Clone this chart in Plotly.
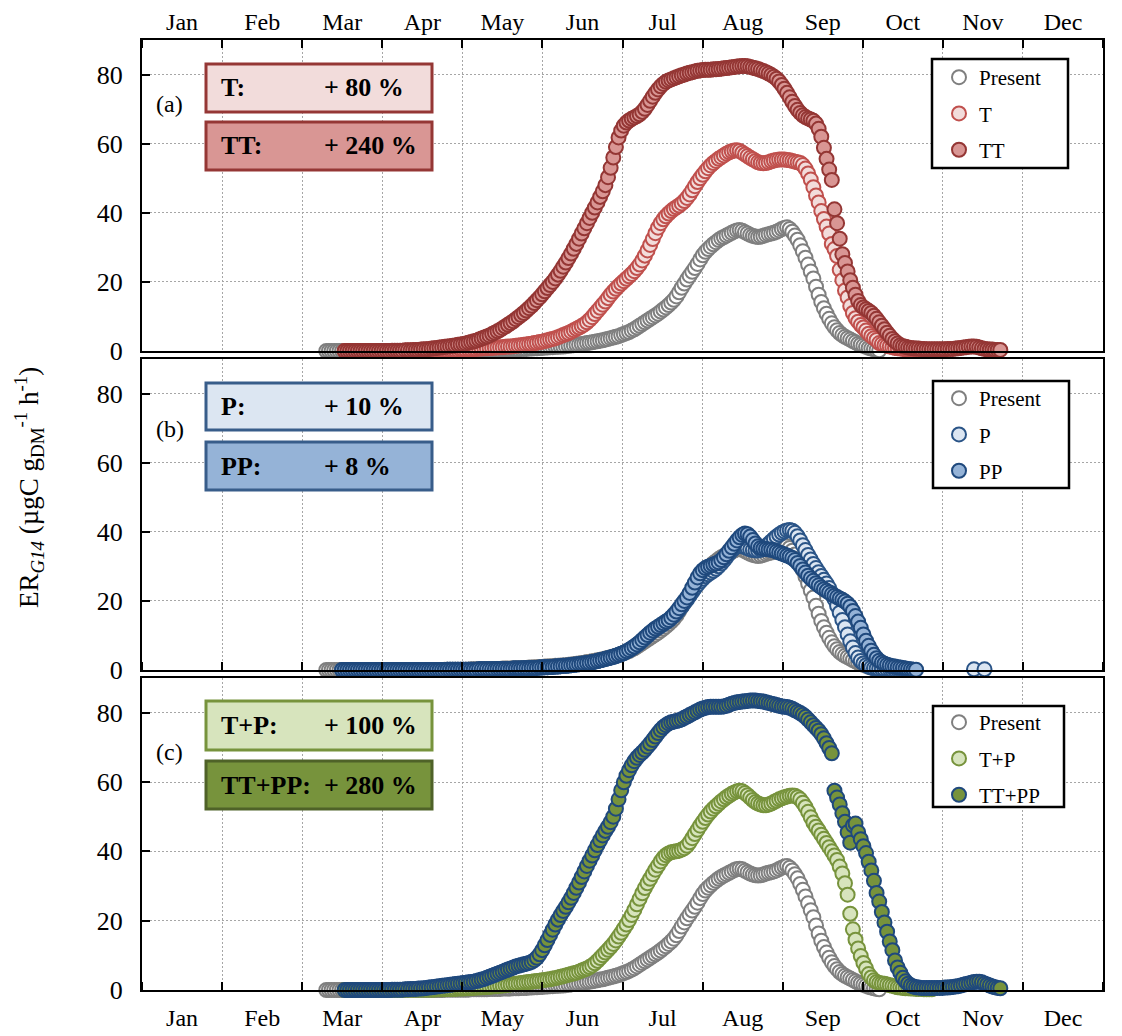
import plotly.graph_objects as go

FONT = "Liberation Serif"

# ---------------- data (daily values, day-of-year start + list) ----------------
months = ["Jan", "Feb", "Mar", "Apr", "May", "Jun", "Jul", "Aug", "Sep", "Oct", "Nov", "Dec"]
y_ticks = [0, 20, 40, 60, 80]

present_start = 70
present = [
    0, 0, 0, 0, 0, 0, 0, 0, 0, 0,
    0, 0, 0, 0, 0, 0, 0, 0, 0, 0,
    0, 0, 0, 0, 0, 0, 0, 0, 0, 0,
    0, 0, 0, 0, 0, 0, 0, 0, 0, 0,
    0, 0, 0, 0, 0, 0.1, 0.1, 0.1, 0.1, 0.1,
    0.1, 0.1, 0.1, 0.1, 0.1, 0.2, 0.2, 0.2, 0.2, 0.2,
    0.2, 0.2, 0.3, 0.3, 0.3, 0.3, 0.3, 0.4, 0.4, 0.4,
    0.4, 0.5, 0.5, 0.5, 0.6, 0.6, 0.6, 0.7, 0.7, 0.8,
    0.8, 0.9, 0.9, 1.0, 1.0, 1.1, 1.1, 1.2, 1.2, 1.3,
    1.3, 1.4, 1.5, 1.6, 1.7, 1.8, 1.9, 2.0, 2.1, 2.3,
    2.4, 2.5, 2.7, 2.8, 3.0, 3.1, 3.3, 3.5, 3.7, 3.9,
    4.1, 4.3, 4.6, 4.9, 5.2, 5.5, 5.9, 6.3, 6.8, 7.3,
    7.8, 8.3, 8.8, 9.3, 9.8, 10.3, 10.8, 11.4, 12.0, 12.6,
    13.3, 14.0, 14.8, 15.8, 17.0, 18.3, 19.5, 20.7, 21.8, 22.9,
    24.0, 25.2, 26.5, 27.7, 28.7, 29.5, 30.2, 30.9, 31.5, 32.1,
    32.6, 33.0, 33.4, 33.8, 34.2, 34.6, 34.9, 35.0, 34.8, 34.4,
    34.0, 33.6, 33.3, 33.1, 33.0, 33.1, 33.3, 33.6, 33.8, 34.0,
    34.2, 34.5, 34.9, 35.3, 35.6, 35.8, 35.3, 34.5, 33.4, 32.2,
    30.6, 28.9, 27.0, 25.0, 23.0, 21.0, 18.6, 16.3, 14.2, 12.4,
    10.8, 9.3, 8.0, 6.9, 6.0, 5.2, 4.6, 4.1, 3.7, 3.3,
    2.9, 2.5, 2.1, 1.8, 1.5, 1.2, 0.9, 0.7, 0.5, 0.3,
    0.2,
]

t_start = 77
t_vals = [
    0, 0, 0,
    0, 0, 0, 0, 0, 0, 0, 0, 0, 0,
    0, 0, 0, 0, 0, 0, 0, 0, 0, 0,
    0.1, 0.1, 0.1, 0.1, 0.1, 0.1, 0.1, 0.1, 0.1, 0.1,
    0.1, 0.1, 0.1, 0.2, 0.2, 0.2, 0.2, 0.3, 0.3, 0.3,
    0.3, 0.4, 0.4, 0.4, 0.5, 0.5, 0.6, 0.6, 0.7, 0.7,
    0.8, 0.8, 0.9, 0.9, 1.0, 1.0, 1.1, 1.1, 1.2, 1.3,
    1.3, 1.4, 1.5, 1.6, 1.7, 1.8, 1.9, 2.0, 2.1, 2.3,
    2.4, 2.6, 2.7, 2.9, 3.1, 3.3, 3.5, 3.7, 4.0, 4.3,
    4.6, 4.9, 5.2, 5.6, 6.0, 6.4, 6.8, 7.2, 7.7, 8.3,
    9.0, 9.8, 10.7, 11.6, 12.5, 13.4, 14.3, 15.3, 16.3, 17.2,
    18.0, 18.8, 19.5, 20.2, 20.9, 21.6, 22.3, 23.1, 24.0, 25.0,
    26.2, 27.6, 29.1, 30.7, 32.4, 34.1, 35.7, 37.0, 38.1, 39.0,
    39.8, 40.5, 41.1, 41.6, 42.1, 42.7, 43.4, 44.3, 45.3, 46.5,
    47.7, 48.9, 50.0, 51.0, 52.0, 52.9, 53.7, 54.4, 55.0, 55.6,
    56.1, 56.6, 57.1, 57.5, 57.8, 58.0, 58.1, 57.9, 57.4, 56.9,
    56.4, 55.9, 55.5, 55.0, 54.6, 54.4, 54.3, 54.4, 54.6, 54.9,
    55.1, 55.3, 55.4, 55.4, 55.4, 55.3, 55.2, 55.0, 54.8, 54.6,
    54.4, 53.8, 52.8, 51.4, 49.6, 47.4, 45.0, 43.0, 40.5, 38.2,
    36.0, 34.0, 31.0, 29.5, 27.5, 23.5, 20.5, 17.5, 15.5, 13.0,
    11.0, 9.5, 8.5, 7.5, 6.8, 5.9, 5.0, 4.3, 3.7, 3.2,
    2.3, 2.0, 1.7, 1.5, 1.3, 1.1, 0.9, 0.8, 0.7, 0.6,
    0.5, 0.5, 0.4, 0.4, 0.3, 0.3, 0.3, 0.2, 0.2, 0.2,
    0.2,
]

tt_start = 77
tt_vals = [
    0, 0, 0,
    0, 0, 0, 0, 0, 0, 0, 0, 0, 0,
    0, 0, 0, 0, 0, 0.1, 0.1, 0.1, 0.1, 0.1,
    0.2, 0.2, 0.2, 0.3, 0.3, 0.3, 0.4, 0.5, 0.5, 0.6,
    0.7, 0.8, 0.9, 1.0, 1.1, 1.2, 1.3, 1.4, 1.5, 1.6,
    1.8, 1.9, 2.0, 2.2, 2.4, 2.6, 2.8, 3.0, 3.3, 3.6,
    3.9, 4.2, 4.5, 4.9, 5.3, 5.7, 6.1, 6.6, 7.1, 7.6,
    8.1, 8.6, 9.2, 9.8, 10.4, 11.0, 11.7, 12.4, 13.1, 13.9,
    14.7, 15.5, 16.4, 17.3, 18.2, 19.1, 20.0, 21.0, 22.1, 23.2,
    24.4, 25.6, 26.9, 28.2, 29.6, 31.0, 32.5, 34.0, 35.5, 37.0,
    38.5, 40.0, 41.5, 43.0, 44.6, 46.2, 48.0, 50.3, 53.0, 56.0,
    59.0, 61.8, 63.8, 65.2, 66.1, 66.7, 67.2, 67.6, 68.0, 68.5,
    69.2, 70.1, 71.2, 72.4, 73.6, 74.7, 75.7, 76.6, 77.3, 77.9,
    78.3, 78.6, 78.9, 79.2, 79.5, 79.8, 80.0, 80.3, 80.5, 80.7,
    80.9, 81.1, 81.2, 81.3, 81.4, 81.4, 81.4, 81.5, 81.5, 81.6,
    81.7, 81.8, 81.9, 82.0, 82.1, 82.2, 82.3, 82.4, 82.5, 82.5,
    82.4, 82.2, 82.0, 81.8, 81.6, 81.3, 81.0, 80.7, 80.3, 79.9,
    79.4, 78.8, 78.0, 77.0, 75.9, 74.7, 73.4, 72.1, 70.9, 69.8,
    68.9, 68.2, 67.7, 67.3, 67.0, 66.6, 65.8, 64.3, 62.0, 58.8,
    55.6, 52.5, 49.5, 41.0, 37.0, 32.5, 28.0, 25.5, 23.0, 20.5,
    18.3, 16.3, 14.5, 13.3, 12.6, 12.1, 11.6, 11.0, 10.2, 9.3,
    8.3, 7.3, 6.3, 5.3, 4.4, 3.5, 2.8, 2.2, 1.7, 1.4,
    1.2, 1.0, 0.9, 0.8, 0.7, 0.7, 0.6, 0.6, 0.5, 0.5,
    0.5, 0.5, 0.5, 0.5, 0.5, 0.5, 0.6, 0.6, 0.6, 0.7,
    0.8, 0.9, 1.0, 1.1, 1.2, 1.3, 1.3, 1.2, 1.0, 0.8,
    0.6, 0.5, 0.4, 0.4, 0.3, 0.3, 0.3,
]

p_start = 76
p_vals = [
    0, 0, 0, 0,
    0, 0, 0, 0, 0, 0, 0, 0, 0, 0,
    0, 0, 0, 0, 0, 0, 0, 0, 0, 0,
    0, 0, 0, 0, 0, 0, 0, 0, 0, 0,
    0, 0, 0, 0, 0, 0, 0.1, 0.1, 0.1, 0.1,
    0.1, 0.1, 0.1, 0.1, 0.1, 0.1, 0.1, 0.1, 0.2, 0.2,
    0.2, 0.2, 0.2, 0.2, 0.2, 0.3, 0.3, 0.3, 0.3, 0.3,
    0.3, 0.4, 0.4, 0.4, 0.4, 0.5, 0.5, 0.5, 0.6, 0.6,
    0.6, 0.7, 0.7, 0.8, 0.8, 0.9, 0.9, 1.0, 1.0, 1.1,
    1.2, 1.2, 1.3, 1.4, 1.5, 1.6, 1.7, 1.8, 1.9, 2.0,
    2.1, 2.3, 2.4, 2.6, 2.8, 3.0, 3.2, 3.4, 3.6, 3.8,
    4.0, 4.3, 4.6, 4.9, 5.3, 5.7, 6.2, 6.7, 7.2, 7.8,
    8.5, 9.2, 9.9, 10.6, 11.2, 11.8, 12.3, 12.8, 13.3, 13.8,
    14.3, 15.0, 15.7, 16.5, 17.4, 18.4, 19.4, 20.4, 21.5, 22.6,
    23.7, 24.7, 25.6, 26.4, 27.1, 27.7, 28.2, 28.7, 29.3, 30.0,
    30.8, 31.7, 32.7, 33.7, 34.6, 35.3, 35.8, 36.0, 35.9, 35.6,
    35.2, 34.9, 34.7, 34.6, 34.6, 34.8, 35.2, 35.8, 36.5, 37.2,
    37.9, 38.6, 39.2, 39.7, 40.1, 40.4, 40.5, 40.3, 39.7, 38.7,
    37.5, 36.1, 34.7, 33.3, 32.0, 30.7, 29.5, 28.3, 27.2, 26.1,
    25.0, 23.7, 22.2, 20.5, 18.6, 16.6, 14.5, 12.4, 10.3, 8.3,
    6.5, 4.9, 3.6, 2.6, 1.9, 1.4, 1.0, 0.7, 0.5, 0.4,
    0.3, 0.3, 0.2, 0.2, 0.2, 0.1, 0.1, 0.1, 0.1, 0.1,
    0.1, None, None, None, None, None, None, None, None, None,
    None, None, None, None, None, None, None, None, None, None,
    None, None, None, None, None, None, 0.2, None, None, None,
    0.2,
]

pp_start = 76
pp_vals = [
    0, 0, 0, 0,
    0, 0, 0, 0, 0, 0, 0, 0, 0, 0,
    0, 0, 0, 0, 0, 0, 0, 0, 0, 0,
    0, 0, 0, 0, 0, 0, 0, 0, 0, 0,
    0, 0, 0, 0, 0, 0, 0.1, 0.1, 0.1, 0.1,
    0.1, 0.1, 0.1, 0.1, 0.1, 0.1, 0.1, 0.1, 0.2, 0.2,
    0.2, 0.2, 0.2, 0.2, 0.2, 0.3, 0.3, 0.3, 0.3, 0.3,
    0.3, 0.4, 0.4, 0.4, 0.4, 0.5, 0.5, 0.5, 0.6, 0.6,
    0.6, 0.7, 0.7, 0.8, 0.8, 0.9, 0.9, 1.0, 1.0, 1.1,
    1.2, 1.2, 1.3, 1.4, 1.5, 1.6, 1.7, 1.8, 1.9, 2.0,
    2.1, 2.3, 2.4, 2.6, 2.8, 3.0, 3.2, 3.4, 3.6, 3.8,
    4.1, 4.4, 4.7, 5.0, 5.4, 5.8, 6.3, 6.8, 7.4, 8.0,
    8.7, 9.4, 10.1, 10.8, 11.4, 12.0, 12.5, 13.0, 13.5, 14.0,
    14.5, 15.2, 16.0, 16.9, 17.9, 19.0, 20.0, 21.0, 22.3, 23.8,
    25.3, 26.8, 28.0, 28.9, 29.5, 29.9, 30.2, 30.5, 30.8, 31.2,
    31.8, 32.6, 33.5, 34.5, 35.5, 36.5, 37.5, 38.4, 39.1, 39.5,
    39.3, 38.6, 37.6, 36.6, 35.8, 35.3, 35.1, 35.0, 34.9, 34.8,
    34.6, 34.3, 34.0, 33.7, 33.4, 33.1, 32.8, 32.4, 31.8, 31.0,
    30.1, 29.1, 28.2, 27.3, 26.5, 25.8, 25.1, 24.5, 23.9, 23.4,
    22.9, 22.4, 21.9, 21.5, 21.1, 20.7, 20.3, 19.8, 19.2, 18.3,
    17.1, 15.6, 14.0, 12.2, 10.3, 8.5, 7.0, 5.6, 4.4, 3.4,
    2.7, 2.2, 1.8, 1.5, 1.3, 1.1, 1.0, 0.8, 0.7, 0.6,
    0.4, 0.3, 0.2, 0.1, 0.1,
]

tp_start = 77
tp_vals = [
    0, 0, 0,
    0, 0, 0, 0, 0, 0, 0, 0, 0, 0,
    0, 0, 0, 0, 0, 0, 0, 0, 0, 0,
    0.1, 0.1, 0.1, 0.1, 0.1, 0.1, 0.1, 0.1, 0.1, 0.1,
    0.1, 0.1, 0.2, 0.2, 0.2, 0.2, 0.3, 0.3, 0.3, 0.3,
    0.4, 0.4, 0.4, 0.5, 0.5, 0.6, 0.6, 0.7, 0.7, 0.8,
    0.8, 0.9, 0.9, 1.0, 1.1, 1.1, 1.2, 1.3, 1.4, 1.5,
    1.6, 1.7, 1.8, 1.9, 2.0, 2.1, 2.2, 2.3, 2.4, 2.5,
    2.6, 2.7, 2.8, 2.9, 3.0, 3.1, 3.3, 3.4, 3.6, 3.8,
    4.0, 4.2, 4.4, 4.6, 4.8, 5.0, 5.3, 5.6, 5.9, 6.2,
    6.6, 7.1, 7.7, 8.4, 9.2, 10.0, 10.8, 11.6, 12.4, 13.3,
    14.3, 15.4, 16.5, 17.7, 18.9, 20.2, 21.6, 23.1, 24.7, 26.3,
    27.9, 29.4, 30.8, 32.1, 33.4, 34.7, 35.9, 37.1, 38.1, 38.9,
    39.4, 39.7, 39.9, 40.0, 40.2, 40.5, 40.9, 41.6, 42.6, 43.8,
    45.0, 46.2, 47.4, 48.5, 49.6, 50.6, 51.5, 52.3, 53.0, 53.7,
    54.4, 55.0, 55.6, 56.1, 56.6, 57.0, 57.3, 57.5, 57.3, 56.8,
    56.2, 55.5, 54.8, 54.2, 53.8, 53.5, 53.3, 53.3, 53.5, 53.8,
    54.2, 54.6, 55.0, 55.3, 55.6, 55.8, 56.0, 56.1, 56.0, 55.6,
    55.0, 54.0, 52.8, 51.4, 49.8, 48.3, 47.1, 46.0, 44.8, 43.6,
    42.4, 41.2, 40.0, 38.8, 37.5, 35.6, 33.6, 30.8, 27.5, 22.0,
    17.5, 14.5, 12.0, 9.8, 7.8, 6.2, 4.6, 3.6, 2.8, 2.3,
    2.0, 1.9, 1.8, 1.6, 1.4, 1.2, 1.0, 0.8, 0.7, 0.6,
    0.5, 0.5, 0.4, 0.4, 0.3, 0.3, 0.3, 0.2, 0.2, 0.2,
    0.2,
]

ttpp_start = 77
ttpp_vals = [
    0, 0, 0,
    0, 0, 0, 0, 0, 0, 0, 0, 0, 0,
    0, 0, 0, 0, 0, 0.1, 0.1, 0.1, 0.1, 0.1,
    0.2, 0.2, 0.3, 0.3, 0.3, 0.4, 0.4, 0.5, 0.6, 0.7,
    0.8, 0.9, 1.0, 1.1, 1.2, 1.3, 1.4, 1.5, 1.6, 1.7,
    1.8, 1.9, 2.0, 2.1, 2.2, 2.3, 2.4, 2.6, 2.8, 3.0,
    3.2, 3.5, 3.8, 4.1, 4.4, 4.7, 5.0, 5.3, 5.6, 5.9,
    6.2, 6.5, 6.8, 7.0, 7.2, 7.4, 7.6, 7.8, 8.1, 8.6,
    9.3, 10.3, 11.5, 12.9, 14.4, 15.9, 17.4, 18.9, 20.3, 21.6,
    22.8, 24.0, 25.3, 26.6, 28.0, 29.5, 31.0, 32.6, 34.2, 35.8,
    37.3, 38.8, 40.3, 41.8, 43.2, 44.6, 45.9, 47.1, 48.4, 50.0,
    52.3, 55.0, 57.6, 59.9, 61.8, 63.4, 64.8, 66.0, 67.0, 67.8,
    68.5, 69.3, 70.2, 71.1, 72.1, 73.1, 74.1, 75.0, 75.8, 76.4,
    76.9, 77.2, 77.4, 77.6, 77.8, 78.1, 78.5, 78.9, 79.3, 79.7,
    80.1, 80.5, 80.9, 81.2, 81.4, 81.6, 81.7, 81.7, 81.7, 81.7,
    81.7, 81.8, 82.0, 82.3, 82.6, 82.8, 83.0, 83.1, 83.2, 83.3,
    83.4, 83.5, 83.5, 83.5, 83.4, 83.3, 83.2, 83.0, 82.8, 82.6,
    82.4, 82.2, 82.0, 81.8, 81.7, 81.6, 81.4, 81.1, 80.7, 80.3,
    79.9, 79.4, 78.8, 78.0, 77.2, 76.4, 75.6, 74.8, 73.8, 72.6,
    71.2, 69.8, 68.3, 57.5, 55.5, 53.5, 51.0, 48.5, 45.5, 42.5,
    47.5, 48.0, 45.5, 43.5, 41.5, 39.5, 37.0, 34.5, 31.5, 28.0,
    25.5, 22.5, 19.5, 16.8, 14.0, 11.5, 8.5, 6.5, 5.0, 3.5,
    2.5, 1.8, 1.3, 1.0, 0.8, 0.7, 0.6, 0.6, 0.6, 0.6,
    0.6, 0.6, 0.6, 0.6, 0.6, 0.7, 0.7, 0.8, 0.9, 1.0,
    1.1, 1.3, 1.5, 1.7, 1.9, 2.1, 2.3, 2.4, 2.4, 2.2,
    1.9, 1.6, 1.3, 1.0, 0.8, 0.6, 0.5,
]

box_labels = [
    [("T:", "+ 80 %"), ("TT:", "+ 240 %")],
    [("P:", "+ 10 %"), ("PP:", "+ 8 %")],
    [("T+P:", "+ 100 %"), ("TT+PP:", "+ 280 %")],
]
panel_letters = ["(a)", "(b)", "(c)"]


def days(start, vals):
    return list(range(start, start + len(vals)))


# ---------------- styles ----------------
GREY = "#7F7F7F"
styles = {
    "Present": dict(fill="#FFFFFF", line=GREY),
    "T": dict(fill="#F2DCDB", line="#C0504D"),
    "TT": dict(fill="#D99694", line="#943634"),
    "P": dict(fill="#DCE6F2", line="#2A5487"),
    "PP": dict(fill="#95B3D7", line="#1F497D"),
    "T+P": dict(fill="#D7E4BD", line="#77933C"),
    "TT+PP": dict(fill="#77933C", line="#1F497D"),
}

panels = [
    [("Present", present_start, present), ("T", t_start, t_vals), ("TT", tt_start, tt_vals)],
    [("Present", present_start, present), ("P", p_start, p_vals), ("PP", pp_start, pp_vals)],
    [("Present", present_start, present), ("T+P", tp_start, tp_vals), ("TT+PP", ttpp_start, ttpp_vals)],
]

fig = go.Figure()
for i, series in enumerate(panels):
    sfx = "" if i == 0 else str(i + 1)
    for name, start, vals in series:
        st = styles[name]
        fig.add_trace(go.Scatter(
            x=days(start, vals), y=vals, name=name, mode="markers",
            xaxis="x" + sfx, yaxis="y" + sfx,
            legend="legend" + sfx, legendgroup=f"{name}{i}",
            cliponaxis=False,
            marker=dict(size=14, color=st["fill"], line=dict(color=st["line"], width=2)),
        ))

# ---------------- layout ----------------
# reference pixel frame (page has an 8px body margin)
OFF = 8
REF_L, REF_R, REF_T, REF_B = 142, 1103, 40, 990
W, H = 1122 - OFF, 1036 - OFF
pw, ph = REF_R - REF_L, REF_B - REF_T


def px_x(x):
    return (x - REF_L) / pw


def px_y(y):
    return (REF_B - y) / ph


domains = [[px_y(351), 1.0], [px_y(670), px_y(359)], [0.0, px_y(678)]]
mid = [(k + 0.5) * 365 / 12 for k in range(12)]

layout = dict(
    width=W, height=H, autosize=False,
    margin=dict(l=REF_L - OFF, r=W - (REF_R - OFF), t=REF_T - OFF, b=H - (REF_B - OFF), pad=0),
    paper_bgcolor="white", plot_bgcolor="white",
    font=dict(family=FONT, color="black", size=20),
    showlegend=True,
)

GRID = dict(showgrid=True, gridcolor="#A6A6A6", griddash="2px,2px", gridwidth=1)
for i in range(3):
    sfx = "" if i == 0 else str(i + 1)
    layout["xaxis" + sfx] = dict(
        range=[0, 365], anchor="y" + sfx, domain=[0, 1], automargin=False,
        side="top" if i == 0 else "bottom",
        showticklabels=(i != 1),
        tickmode="array", tickvals=mid, ticktext=months,
        ticks="outside", ticklen=(0 if i == 0 else 5), tickcolor="rgba(0,0,0,0)",
        ticklabelstandoff=(-2 if i == 0 else 0),
        tickfont=dict(family=FONT, size=24, color="black"),
        showgrid=False, zeroline=False,
        showline=True, linecolor="black", linewidth=2, mirror=True,
        minor=dict(tickmode="linear", tick0=0, dtick=365 / 12,
                   ticks="inside", ticklen=8, tickwidth=2, tickcolor="black", **GRID),
    )
    layout["yaxis" + sfx] = dict(
        range=[0, 90], anchor="x" + sfx, domain=domains[i], automargin=False,
        tickmode="array", tickvals=y_ticks,
        ticks="inside", ticklen=8, tickwidth=2, tickcolor="black",
        ticklabelstandoff=12,
        tickfont=dict(family=FONT, size=26, color="black"),
        zeroline=False, showline=True, linecolor="black", linewidth=2, mirror=True,
        **GRID,
    )

legend_boxes = [(932, 1068, 59, 168), (933, 1069, 381, 488), (933, 1064, 706, 807)]
legend_first = [78, 399, 723]
for i in range(3):
    sfx = "" if i == 0 else str(i + 1)
    layout["legend" + sfx] = dict(
        x=px_x(939), y=px_y(legend_first[i] - 21), xanchor="left", yanchor="top",
        bgcolor="rgba(0,0,0,0)", borderwidth=0,
        font=dict(family=FONT, size=21, color="black"),
        tracegroupgap=6, traceorder="grouped", itemsizing="trace",
    )

fig.update_layout(**layout)

# legend frames
for (x0, x1, y0, y1) in legend_boxes:
    fig.add_shape(type="rect", xref="paper", yref="paper",
                  x0=px_x(x0), x1=px_x(x1), y0=px_y(y1), y1=px_y(y0),
                  fillcolor="white", line=dict(color="black", width=2.5), layer="above")

# annotation boxes
box_rows = [[(64, 112), (122, 170)], [(383, 430), (442, 490)], [(701, 750), (761, 809)]]
box_colors = [
    [("#F2DCDB", "#953735"), ("#D99694", "#953735")],
    [("#DCE6F2", "#385D8A"), ("#95B3D7", "#385D8A")],
    [("#D7E4BD", "#77933C"), ("#77933C", "#4F6228")],
]
letter_y = [104, 429, 752]
for i in range(3):
    for j in range(2):
        y0p, y1p = box_rows[i][j]
        fc, lc = box_colors[i][j]
        fig.add_shape(type="rect", xref="paper", yref="paper",
                      x0=px_x(206), x1=px_x(432), y0=px_y(y1p), y1=px_y(y0p),
                      fillcolor=fc, line=dict(color=lc, width=3), layer="above")
        lab, val = box_labels[i][j]
        yc = px_y((y0p + y1p) / 2)
        fig.add_annotation(xref="paper", yref="paper", x=px_x(219), y=yc,
                           xanchor="left", yanchor="middle", showarrow=False,
                           text=f"<b>{lab}</b>", font=dict(family=FONT, size=26, color="black"))
        fig.add_annotation(xref="paper", yref="paper", x=px_x(322), y=yc,
                           xanchor="left", yanchor="middle", showarrow=False,
                           text=f"<b>{val}</b>", font=dict(family=FONT, size=26, color="black"))
    fig.add_annotation(xref="paper", yref="paper", x=px_x(154), y=px_y(letter_y[i]),
                       xanchor="left", yanchor="middle", showarrow=False,
                       text=panel_letters[i], font=dict(family=FONT, size=24, color="black"))

fig.add_annotation(xref="paper", yref="paper", x=px_x(29), y=px_y(488),
                   xanchor="center", yanchor="middle", showarrow=False, textangle=-90,
                   text="ER<sub><i>G14</i></sub> (µgC g<sub>DM</sub><sup>-1</sup> h<sup>-1</sup>)",
                   font=dict(family=FONT, size=27, color="black"))

fig.write_html("out.html")
